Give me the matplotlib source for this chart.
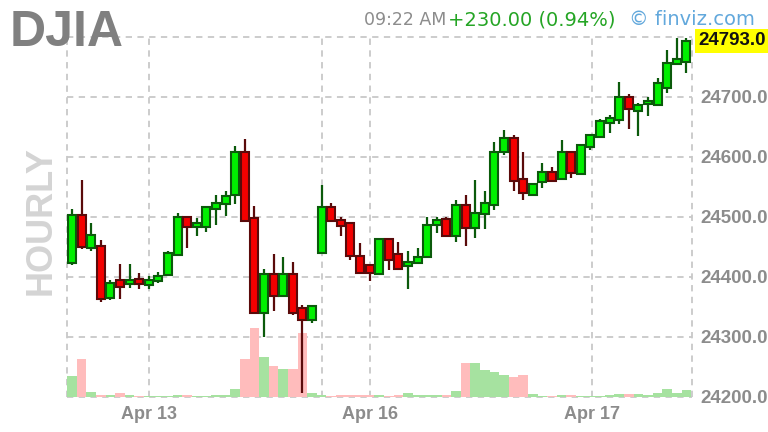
import matplotlib
matplotlib.use("Agg")
import matplotlib.pyplot as plt
from matplotlib.transforms import blended_transform_factory
import numpy as np

plt.rcParams['font.family'] = ['Liberation Sans', 'DejaVu Sans']

# ---------------- data (hourly DJIA candles) ----------------
opens = [24423, 24503, 24447, 24451, 24364, 24394, 24388, 24396, 24386, 24392,
         24403, 24436, 24499, 24483, 24483, 24512, 24521, 24536, 24608, 24497,
         24339, 24405, 24368, 24405, 24347, 24328, 24440, 24516, 24494, 24489,
         24435, 24419, 24405, 24462, 24438, 24417, 24423, 24432, 24486, 24496,
         24468, 24519, 24481, 24504, 24519, 24608, 24631, 24563, 24536, 24557,
         24575, 24562, 24607, 24571, 24616, 24632, 24656, 24661, 24699, 24676,
         24688, 24686, 24714, 24755, 24758]
highs = [24512, 24561, 24489, 24461, 24394, 24421, 24421, 24406, 24401, 24407,
         24442, 24506, 24501, 24497, 24518, 24536, 24542, 24617, 24629, 24517,
         24412, 24437, 24433, 24425, 24353, 24353, 24553, 24522, 24499, 24490,
         24456, 24420, 24463, 24463, 24457, 24442, 24447, 24500, 24500, 24500,
         24527, 24536, 24561, 24542, 24625, 24644, 24636, 24608, 24556, 24589,
         24583, 24628, 24608, 24621, 24638, 24662, 24669, 24725, 24704, 24690,
         24700, 24731, 24777, 24797, 24797]
lows = [24419, 24446, 24443, 24358, 24361, 24362, 24381, 24379, 24379, 24390,
        24401, 24435, 24447, 24467, 24475, 24486, 24501, 24521, 24492, 24338,
        24299, 24342, 24367, 24336, 24206, 24322, 24439, 24491, 24467, 24428,
        24405, 24392, 24404, 24411, 24412, 24379, 24422, 24431, 24472, 24466,
        24458, 24451, 24464, 24479, 24511, 24603, 24543, 24528, 24535, 24547,
        24559, 24561, 24564, 24570, 24611, 24631, 24639, 24654, 24646, 24634,
        24668, 24685, 24706, 24754, 24739]
closes = [24503, 24449, 24469, 24363, 24390, 24382, 24394, 24388, 24394, 24401,
          24439, 24499, 24483, 24490, 24516, 24523, 24535, 24608, 24493, 24339,
          24405, 24368, 24405, 24339, 24327, 24351, 24516, 24492, 24485, 24435,
          24406, 24406, 24462, 24427, 24413, 24425, 24432, 24486, 24494, 24468,
          24519, 24481, 24506, 24522, 24608, 24631, 24559, 24540, 24554, 24575,
          24560, 24608, 24572, 24619, 24636, 24660, 24664, 24699, 24680, 24686,
          24692, 24723, 24756, 24762, 24793]
volumes = [21, 38, 4.5, 2, 2, 4, 2, 0.5, 0.5, 0.5,
           0.5, 2, 2, 0.5, 0.5, 2, 2, 8, 38, 69,
           40, 31, 28, 28, 64, 4, 1.5, 0.5, 1.5, 1.5,
           1.5, 1.5, 2, 0.5, 2, 3.5, 1.5, 1.5, 1.5, 2,
           6, 34, 34, 27, 25, 22, 20, 22, 3, 0.5,
           0.5, 2, 2, 0.5, 0.5, 1, 2, 3, 3, 3,
           2, 4, 8, 4, 7]

date_labels = ['Apr 13', 'Apr 16', 'Apr 17']
date_ticks = [8, 31, 54.2]
session_lines = [26]
price_ticks = [24200, 24300, 24400, 24500, 24600, 24700]
last_price = 24793.0
ticker = 'DJIA'
timeframe = 'HOURLY'
stamp = '09:22 AM'
change_text = '+230.00 (0.94%)'
brand = '\u00a9 finviz.com'

# ---------------- figure ----------------
W, H = 768, 432
fig = plt.figure(figsize=(W / 100, H / 100), dpi=100)
rect = [67 / W, 35.3 / H, 625 / W, 360 / H]

x = np.arange(len(opens))
xlim = (-0.52, 64.58)
ylim = (24200, 24800)

grid_color = '#c8c8c8'
dash = (0, (3.5, 3))

# background axes: grid + labels
ax_bg = fig.add_axes(rect)
ax_bg.set_xlim(*xlim)
ax_bg.set_ylim(*ylim)
for s in ax_bg.spines.values():
    s.set_visible(False)
for p in list(price_ticks) + [24800]:
    ax_bg.axhline(p, color=grid_color, lw=1.3, ls=dash, clip_on=False, zorder=0)
for v in [xlim[0], xlim[1]] + list(date_ticks) + list(session_lines):
    ax_bg.axvline(v, color=grid_color, lw=1.3, ls=dash, clip_on=False, zorder=0)

ax_bg.yaxis.tick_right()
ax_bg.set_yticks(price_ticks)
ax_bg.set_yticklabels([f'{p:.1f}' for p in price_ticks])
ax_bg.tick_params(axis='y', length=0, pad=6, labelsize=13.5, labelcolor='#8c8c8c')
ax_bg.set_xticks(date_ticks)
ax_bg.set_xticklabels(date_labels)
ax_bg.tick_params(axis='x', length=0, pad=7, labelsize=13, labelcolor='#8c8c8c')
for lab in ax_bg.get_yticklabels() + ax_bg.get_xticklabels():
    lab.set_fontweight('bold')

# volume axes
ax_vol = fig.add_axes(rect, sharex=ax_bg)
ax_vol.set_ylim(0, 360)
ax_vol.patch.set_visible(False)
ax_vol.axis('off')
vcolors = ['#a6e2a0' if c >= o else '#ffbcbc' for o, c in zip(opens, closes)]
ax_vol.bar(x, volumes, width=1.0, color=vcolors, linewidth=0)

# price axes
ax = fig.add_axes(rect, sharex=ax_bg)
ax.set_ylim(*ylim)
ax.set_xlim(*xlim)
ax.patch.set_visible(False)
ax.axis('off')
up_fill, up_edge = '#00f000', '#0b5a0b'
dn_fill, dn_edge = '#f40000', '#5a0a0a'
for i, (o, h, l, c) in enumerate(zip(opens, highs, lows, closes)):
    up = c >= o
    ec = up_edge if up else dn_edge
    fc = up_fill if up else dn_fill
    ax.vlines(i, l, h, color=ec, lw=1.6, zorder=2)
    ax.bar(i, max(abs(c - o), 3), bottom=min(o, c), width=0.84,
           color=fc, edgecolor=ec, linewidth=1.5, zorder=3)

# last price label
tr = blended_transform_factory(ax.transAxes, ax.transData)
ax.text(1.01, last_price, f'{last_price:.1f}', transform=tr, ha='left', va='center',
        fontsize=13.5, fontweight='bold', color='#111111', clip_on=False,
        bbox=dict(boxstyle='square,pad=0.18', facecolor='#ffff00', edgecolor='none'))

# header texts
fig.text(10 / W, 1 - 46 / H, ticker, fontsize=36, fontweight='bold', color='#808080',
         va='baseline', ha='left')
fig.text(41 / W, 1 - 221 / H, timeframe, fontsize=26, fontweight='bold', color='#d4d4d4',
         rotation=90, ha='center', va='center')
t_change = fig.text(615 / W, 1 - 25 / H, change_text, fontsize=14, color='#25a525',
                    va='baseline', ha='right', family='DejaVu Sans')
fig.canvas.draw()
bb = t_change.get_window_extent()
fig.text(bb.x0 / W - 0.002, 1 - 25 / H, stamp, fontsize=12.5, color='#8c8c8c',
         va='baseline', ha='right', family='DejaVu Sans')
fig.text(629 / W, 1 - 25 / H, brand, fontsize=14, color='#62a8dc', va='baseline',
         ha='left', family='DejaVu Sans')

fig.savefig('out.png', dpi=100)
